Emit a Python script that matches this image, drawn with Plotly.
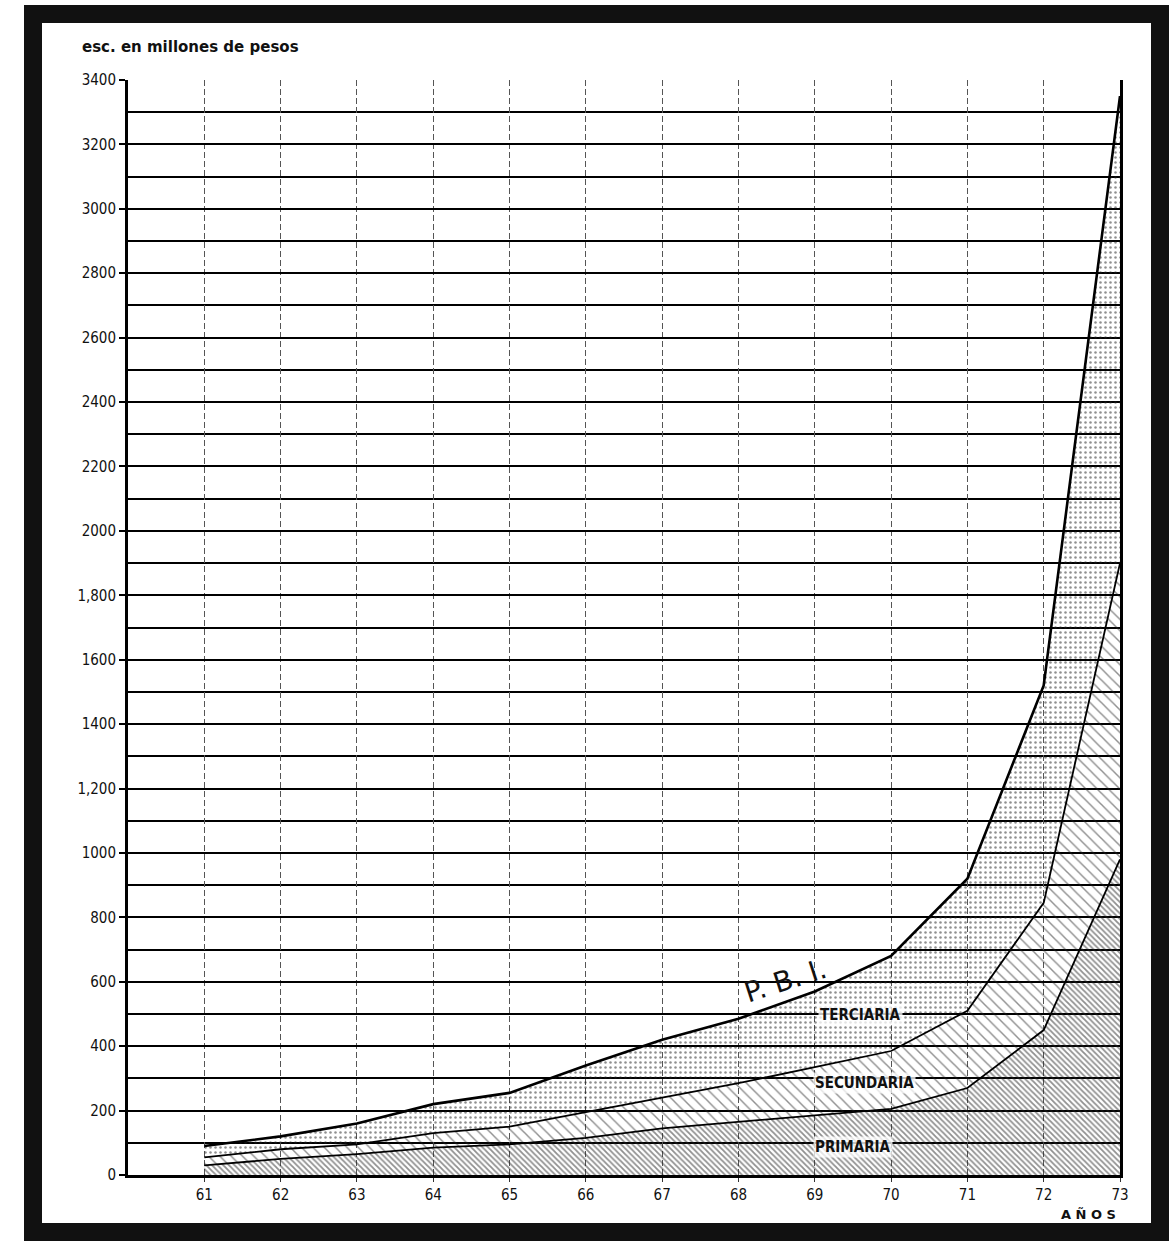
import plotly.graph_objects as go

# Años (eje X) y componentes del P.B.I., en millones de pesos
years = [61, 62, 63, 64, 65, 66, 67, 68, 69, 70, 71, 72, 73]
year_labels = ["61", "62", "63", "64", "65", "66", "67", "68", "69", "70", "71", "72", "73"]

primaria = [30, 50, 65, 85, 95, 115, 145, 165, 185, 205, 270, 450, 980]
secundaria = [25, 30, 30, 45, 55, 80, 95, 120, 150, 180, 240, 395, 920]
terciaria = [35, 40, 65, 90, 105, 145, 180, 200, 235, 295, 410, 675, 1450]

y_tick_vals = [0, 200, 400, 600, 800, 1000, 1200, 1400, 1600, 1800, 2000,
               2200, 2400, 2600, 2800, 3000, 3200, 3400]
y_tick_text = ["0", "200", "400", "600", "800", "1000", "1,200", "1400", "1600",
               "1,800", "2000", "2200", "2400", "2600", "2800", "3000", "3200", "3400"]

W, H = 1176, 1257
L, R, T, B = 128, 56, 80, 82
pw, ph = W - L - R, H - T - B


def px(x):
    return (x - L) / pw


def py(y):
    return (H - B - y) / ph


fig = go.Figure()

sectors = [
    ("Primaria", primaria, dict(shape="\\", size=4, solidity=0.45), 1.8),
    ("Secundaria", secundaria, dict(shape="\\", size=8, solidity=0.18), 1.8),
    ("Terciaria", terciaria, dict(shape=".", size=5, solidity=0.2), 2.6),
]
for name, vals, pat, lw in sectors:
    fig.add_trace(go.Scatter(
        x=years, y=vals, name=name, mode="lines",
        stackgroup="pbi",
        line=dict(color="black", width=lw),
        fillcolor="rgba(0,0,0,0)",
        fillpattern=dict(fgcolor="#222222", bgcolor="rgba(0,0,0,0)",
                         fillmode="overlay", **pat),
        hoverinfo="skip",
    ))

label_font = dict(family="DejaVu Sans Condensed, DejaVu Sans", size=15, color="#111")
annotations = [
    dict(x=68.62, y=605, text="P. B. I.", textangle=-18, showarrow=False,
         font=dict(family="DejaVu Sans", size=28, color="#111")),
    dict(x=69.6, y=497, text="<b>TERCIARIA</b>", showarrow=False, font=label_font,
         bgcolor="rgba(255,255,255,0.75)", borderpad=1),
    dict(x=69.65, y=286, text="<b>SECUNDARIA</b>", showarrow=False, font=label_font,
         bgcolor="rgba(255,255,255,0.75)", borderpad=1),
    dict(x=69.5, y=87, text="<b>PRIMARIA</b>", showarrow=False, font=label_font,
         bgcolor="rgba(255,255,255,0.75)", borderpad=1),
    dict(xref="paper", yref="paper", x=px(80), y=py(47), xanchor="left", yanchor="middle",
         text="<b>esc. en millones de pesos</b>", showarrow=False,
         font=dict(family="DejaVu Sans", size=15, color="#111")),
    dict(xref="paper", yref="paper", x=px(1118), y=py(1214), xanchor="right", yanchor="middle",
         text="<b>A Ñ O S</b>", showarrow=False,
         font=dict(family="DejaVu Sans", size=13, color="#111")),
]

# Marco negro alrededor de toda la lámina
shapes = [
    dict(type="rect", xref="paper", yref="paper",
         x0=px(33), x1=px(1160), y0=py(1232), y1=py(14),
         line=dict(color="#111", width=18)),
]

fig.update_layout(
    width=W, height=H,
    margin=dict(l=L, r=R, t=T, b=B),
    paper_bgcolor="white", plot_bgcolor="white",
    showlegend=False,
    annotations=annotations,
    shapes=shapes,
    font=dict(family="DejaVu Sans", color="#111"),
)

tick_font = dict(family="DejaVu Sans Condensed, DejaVu Sans", size=15, color="#111")

fig.update_xaxes(
    range=[60, 73],
    tickmode="array", tickvals=years, ticktext=year_labels,
    showgrid=True, gridcolor="#555", gridwidth=1.3, griddash="6px,3px",
    showline=True, linecolor="black", linewidth=3,
    ticks="outside", ticklen=4, tickcolor="#333", tickwidth=1,
    tickfont=tick_font,
    zeroline=False,
)
fig.update_yaxes(
    range=[0, 3400],
    tickmode="array", tickvals=y_tick_vals, ticktext=y_tick_text,
    showgrid=True, gridcolor="black", gridwidth=1.9,
    minor=dict(tickmode="linear", tick0=0, dtick=100, showgrid=True,
               gridcolor="black", gridwidth=1.7),
    showline=True, linecolor="black", linewidth=3, mirror=True,
    ticks="outside", ticklen=6, tickcolor="black", tickwidth=1.5,
    tickfont=tick_font,
    zeroline=False,
)

fig.write_html("out.html")
